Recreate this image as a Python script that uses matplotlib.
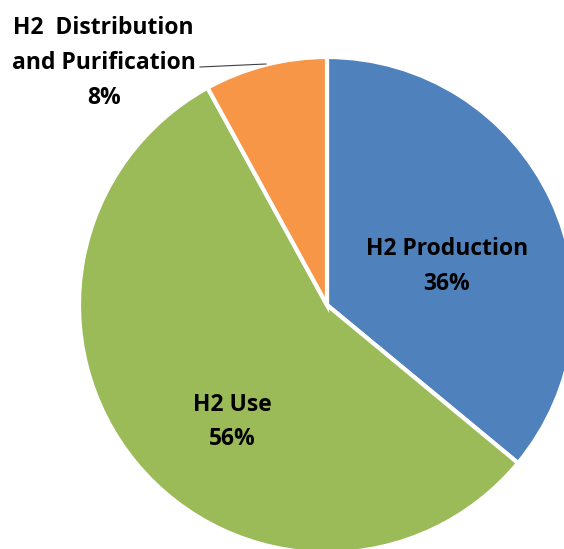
import matplotlib.pyplot as plt

labels = ["H2 Production", "H2 Use", "H2  Distribution\nand Purification"]
shares = [36, 56, 8]
colors = ["#4F81BD", "#9BBB59", "#F79646"]

fig = plt.figure(figsize=(5.64, 5.49), dpi=100)
# pie is centred at (327, 305) px with radius 248 px, cropped at right and bottom
ax = fig.add_axes([79 / 564, -4 / 549, 496 / 564, 496 / 549])

wedges, _ = ax.pie(shares, colors=colors, startangle=90, counterclock=False,
                   wedgeprops=dict(edgecolor="white", linewidth=3))
ax.set_xlim(-1, 1)
ax.set_ylim(-1, 1)

font = dict(family="Open Sans", weight="bold", size=16.5, color="black",
            ha="center", va="center", linespacing=1.6)
ax.text(0.484, 0.155, "%s\n%d%%" % (labels[0], shares[0]), **font)
ax.text(-0.383, -0.472, "%s\n%d%%" % (labels[1], shares[1]), **font)
ax.text(-0.90, 0.975, "%s\n%d%%" % (labels[2], shares[2]), clip_on=False, **font)

# leader line for the small slice
ax.plot([(200 - 327) / 248, (266 - 327) / 248],
        [(305 - 67) / 248, (305 - 64) / 248],
        color="#404040", linewidth=0.8, clip_on=False)

fig.savefig("out.png", dpi=100)
